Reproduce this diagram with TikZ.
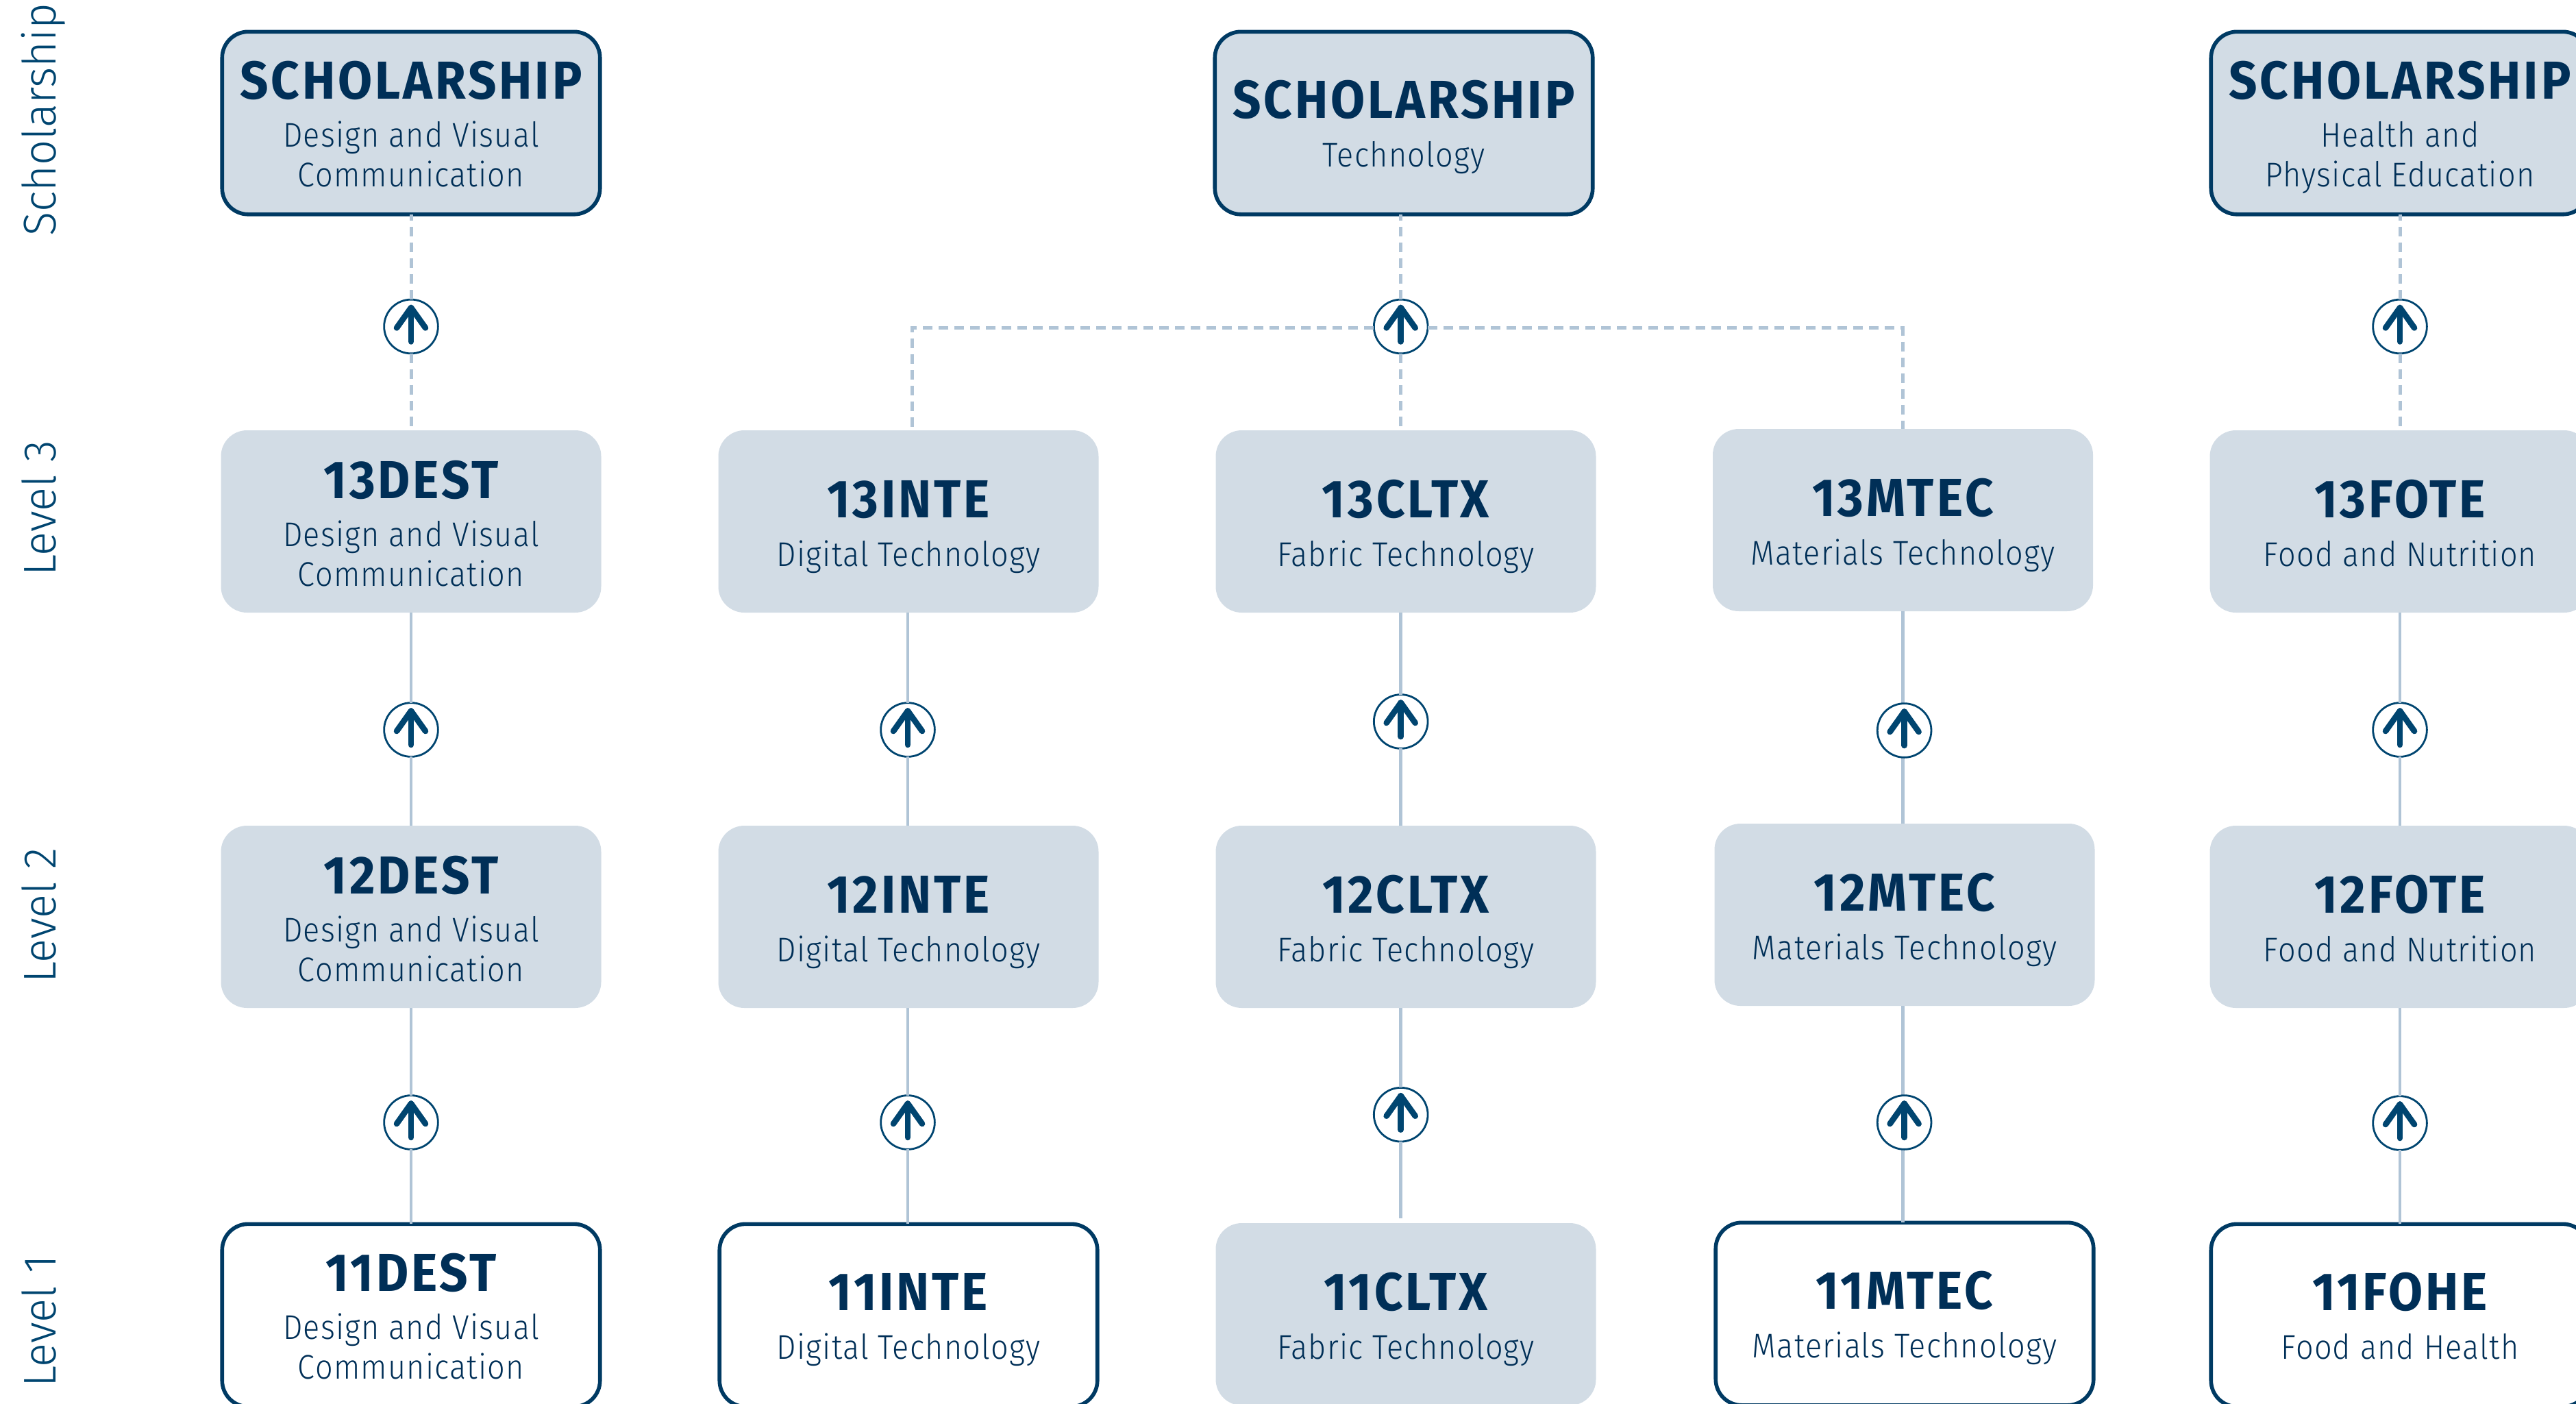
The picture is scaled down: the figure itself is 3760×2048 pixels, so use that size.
\documentclass[tikz,border=0pt]{standalone}
\usepackage{fontspec}
\newfontfamily\ttlf[FakeStretch=0.93,LetterSpace=5]{Fira Sans}
\newfontfamily\bodf[FakeStretch=0.9,LetterSpace=2.5]{Fira Sans Light}
\newfontfamily\labf[FakeStretch=0.97]{Fira Sans Light}
\definecolor{ink}{HTML}{002F57}
\definecolor{navy}{HTML}{003A63}
\definecolor{arrowc}{HTML}{004570}
\definecolor{labc}{HTML}{004570}
\definecolor{fillg}{HTML}{D2DCE5}
\definecolor{linec}{HTML}{B0C4D6}
\tikzset{
  x=1pt,y=-1pt,
  greybox/.style={rectangle,rounded corners=38pt,fill=fillg,minimum width=555pt,minimum height=266pt,inner sep=0pt,outer sep=0pt,anchor=north},
  schobox/.style={greybox,draw=navy,line width=5.6pt,minimum width=551.5pt,minimum height=266.5pt,yshift=-1.3pt},
  whitebox/.style={schobox,fill=white},
  ttl/.style={anchor=base,inner sep=0pt,text=ink,font=\ttlf\bfseries\fontsize{78pt}{78pt}\selectfont},
  bod/.style={anchor=base,inner sep=0pt,text=ink,font=\bodf\fontsize{50pt}{50pt}\selectfont},
  lab/.style={anchor=base west,rotate=90,inner sep=0pt,text=labc,font=\labf\fontsize{67pt}{67pt}\selectfont},
  circ/.style={circle,draw=arrowc,fill=white,line width=2.8pt,minimum size=78.7pt,inner sep=0pt,outer sep=0pt},
  arr/.style={draw=arrowc,line width=8.6pt,line cap=round,line join=round},
  solidl/.style={draw=linec,line width=4.8pt},
  dashl/.style={draw=linec,line width=5pt,dash pattern=on 14pt off 9pt}
}
% name, style, cx, outer top, title, line 1, line 2
\newcommand{\twobox}[7]{%
  \node[#2] (#1) at (#3,#4) {};
  \node[ttl] (#1t) at (#3,#4+99) {#5};
  \node[bod] (#1a) at (#3,#4+169) {#6};
  \node[bod] (#1b) at (#3,#4+227) {#7};
}
\newcommand{\onebox}[6]{%
  \node[#2] (#1) at (#3,#4) {};
  \node[ttl] (#1t) at (#3,#4+127) {#5};
  \node[bod] (#1a) at (#3,#4+198) {#6};
}
\newcommand{\arrcirc}[3]{%
  \node[circ] (#1) at (#2,#3) {};
  \draw[arr] ([shift={(0,22)}]#1.center) -- ([shift={(0,-27.5)}]#1.center);
  \draw[arr] ([shift={(-21,2)}]#1.center) -- ([shift={(0,-27.5)}]#1.center) -- ([shift={(21,2)}]#1.center);
}
\begin{document}
\begin{tikzpicture}
\useasboundingbox (0,0) rectangle (3760,2048);
\clip (0,0) rectangle (3760,2048);
% level labels
\node[lab] (lsch) at (81,345) {Scholarship};
\node[lab] (l3) at (81,841) {Level 3};
\node[lab] (l2) at (81,1435) {Level 2};
\node[lab] (l1) at (81,2025) {Level 1};
% scholarship row
\twobox{sa}{schobox}{600}{45}{SCHOLARSHIP}{Design and Visual}{Communication}
\onebox{sb}{schobox}{2049}{45}{SCHOLARSHIP}{Technology}
\twobox{sc}{schobox}{3503}{45}{SCHOLARSHIP}{Health and}{Physical Education}
% level 3
\twobox{ta}{greybox}{600}{628}{13DEST}{Design and Visual}{Communication}
\onebox{tb}{greybox}{1326}{628}{13INTE}{Digital Technology}
\onebox{tc}{greybox}{2052}{628}{13CLTX}{Fabric Technology}
\onebox{td}{greybox}{2777.5}{626}{13MTEC}{Materials Technology}
\onebox{te}{greybox}{3503}{628}{13FOTE}{Food and Nutrition}
% level 2
\twobox{ua}{greybox}{600}{1205}{12DEST}{Design and Visual}{Communication}
\onebox{ub}{greybox}{1326}{1205}{12INTE}{Digital Technology}
\onebox{uc}{greybox}{2052}{1205}{12CLTX}{Fabric Technology}
\onebox{ud}{greybox}{2780}{1202}{12MTEC}{Materials Technology}
\onebox{ue}{greybox}{3503}{1205}{12FOTE}{Food and Nutrition}
% level 1
\twobox{va}{whitebox}{600}{1785}{11DEST}{Design and Visual}{Communication}
\onebox{vb}{whitebox}{1326}{1785}{11INTE}{Digital Technology}
\onebox{vc}{greybox}{2052}{1785}{11CLTX}{Fabric Technology}
\onebox{vd}{whitebox}{2780}{1783}{11MTEC}{Materials Technology}
\onebox{ve}{whitebox}{3503}{1785}{11FOHE}{Food and Health}
% column 4 lines run just left of the circle centres
\coordinate (dx) at (2777.5,0);
\draw[solidl] (dx |- td.south) -- (dx |- ud.north);
\draw[solidl] (dx |- ud.south) -- (dx |- vd.north);
% circles: scholarship link
\arrcirc{ca}{600}{476.5}
\arrcirc{cb}{2044.7}{476.5}
\arrcirc{cc}{3503}{476.5}
% circles: level 2 to 3
\arrcirc{da}{600}{1065}
\arrcirc{db}{1325}{1065}
\arrcirc{dc}{2044.7}{1053}
\arrcirc{dd}{2779.6}{1066}
\arrcirc{de}{3503}{1065}
% circles: level 1 to 2
\arrcirc{ea}{600}{1638}
\arrcirc{eb}{1325}{1638}
\arrcirc{ec}{2044.7}{1626.7}
\arrcirc{ed}{2779.6}{1638}
\arrcirc{ee}{3503}{1639}
% connectors
\foreach \c/\lo/\up in {ca/ta/sa,cb/tc/sb,cc/te/sc}{
  \draw[dashl] (\c.south) -- (\c.south |- \lo.north);
  \draw[dashl] (\c.north) -- (\c.north |- \up.south);
}
\coordinate (jl) at (1331,478.5);
\coordinate (jr) at (2777,478.5);
\draw[dashl] (cb.west |- jl) -- (jl) -- (jl |- tb.north);
\draw[dashl] (cb.east |- jr) -- (jr) -- (jr |- td.north);
\foreach \c/\lo/\up in {da/ua/ta,db/ub/tb,dc/uc/tc,de/ue/te,ea/va/ua,eb/vb/ub,ee/ve/ue}{
  \draw[solidl] (\c.south) -- (\c.south |- \lo.north);
  \draw[solidl] (\c.north) -- (\c.north |- \up.south);
}
\coordinate (ecend) at (2044.7,1777.7);
\draw[solidl] (ec.south) -- (ecend);
\draw[solidl] (ec.north) -- (ec.north |- uc.south);
\end{tikzpicture}
\end{document}
